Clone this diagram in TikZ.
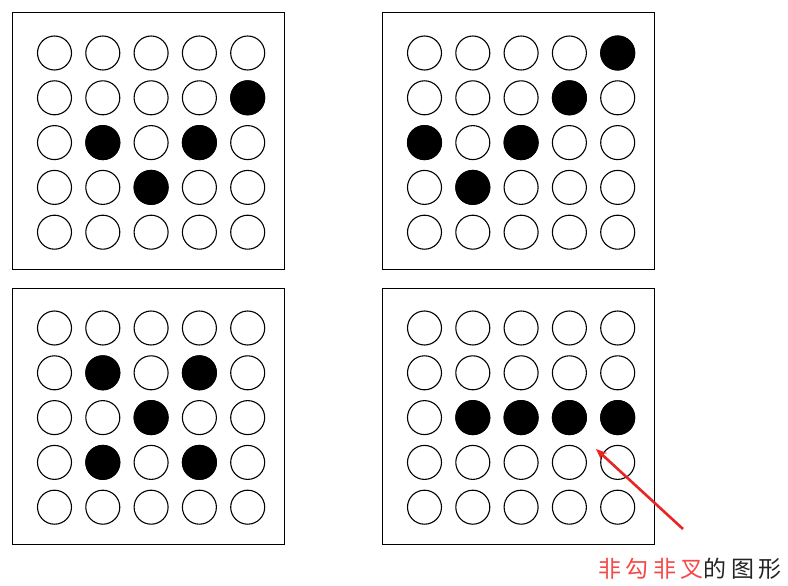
\documentclass[tikz,border=0pt]{standalone}
\usepackage{fontspec}
\newfontfamily\cjk[LetterSpace=20]{Noto Sans CJK SC}
\usetikzlibrary{arrows.meta}
\definecolor{markred}{RGB}{232,36,36}
\definecolor{labelred}{RGB}{245,72,72}
\definecolor{labelgray}{RGB}{35,35,35}
\tikzset{
  panel/.style={draw, line width=1pt},
  dot/.style={circle, draw, line width=1.1pt, minimum size=34pt, inner sep=0pt},
  full/.style={fill=black},
}

\begin{document}
\begin{tikzpicture}[x=1pt,y=-1pt]
\useasboundingbox (0,0) rectangle (788,586);
% four boxes with 5x5 rings
\foreach \p/\x/\y in {tl/12/13, tr/382/13, bl/12/288, br/382/288} {
  \draw[panel] (\x,\y) rectangle ++(272,256);
  \foreach \c in {1,...,5}
    \foreach \r in {1,...,5}
      \node[dot] (\p-\c-\r) at ({\x+42.5+48.3*(\c-1)},{\y+40+44.8*(\r-1)}) {};
}
% black dots
\foreach \n in {tl-5-2, tl-2-3, tl-4-3, tl-3-4,
                tr-5-1, tr-4-2, tr-1-3, tr-3-3, tr-2-4,
                bl-2-2, bl-4-2, bl-3-3, bl-2-4, bl-4-4,
                br-2-3, br-3-3, br-4-3, br-5-3}
  \path[full] (\n.center) circle[radius=17.5pt];
% note
\coordinate (tip) at (596,449);
\coordinate (tail) at (683,529);
\draw[markred, line width=2.6pt, -{Stealth[length=11pt,width=9pt]}] (tail) -- (tip);
\node[font=\cjk\fontsize{23}{23}\selectfont, text=labelgray] (note) at (690,569)
  {\textcolor{labelred}{非勾非叉}的图形};
\end{tikzpicture}
\end{document}
